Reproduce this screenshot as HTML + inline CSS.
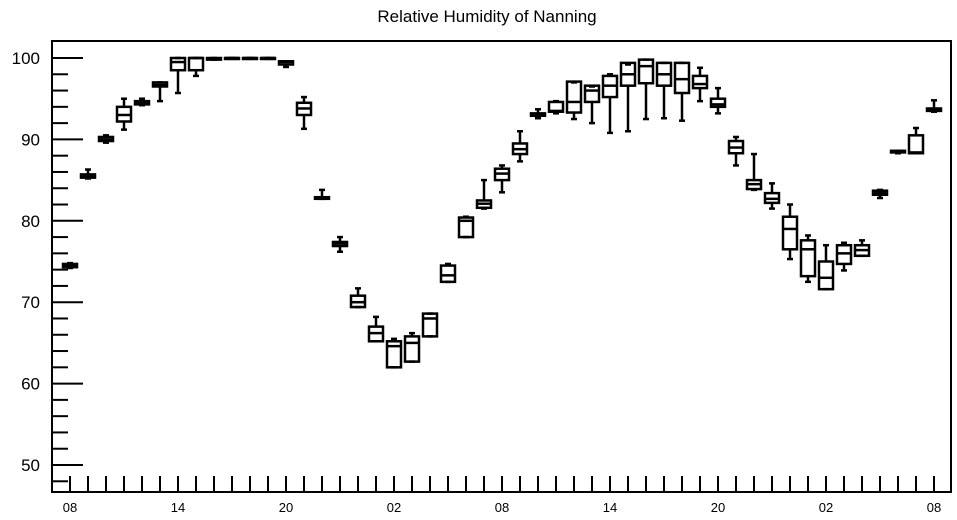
<!DOCTYPE html>
<html><head><meta charset="utf-8"><style>
body{margin:0;background:#fff;}
svg{display:block;font-family:"Liberation Sans",sans-serif;}
</style></head><body>
<svg id="chart" width="957" height="520" xmlns="http://www.w3.org/2000/svg">
<text x="487" y="22" text-anchor="middle" font-size="17">Relative Humidity of Nanning</text>
<g id="axes"></g>
<g id="boxes"></g>
</svg>
<script>
const hours = [0,1,2,3,4,5,6,7,8,9,10,11,12,13,14,15,16,17,18,19,20,21,22,23,24,25,26,27,28,29,30,31,32,33,34,35,36,37,38,39,40,41,42,43,44,45,46,47,48];
const mins = [74.2,85.2,89.6,91.2,94.2,94.7,95.7,97.8,99.8,99.9,99.9,99.9,98.9,91.3,82.7,76.2,69.4,65.2,62.0,62.7,65.8,72.5,78.0,81.5,83.5,87.3,92.6,93.2,92.5,92.0,90.8,91.0,92.5,92.6,92.3,94.7,93.2,86.8,83.8,81.5,75.3,72.5,71.6,73.9,75.7,82.8,88.3,88.3,93.4];
const q1s = [74.3,85.3,89.8,92.2,94.3,96.5,98.5,98.5,99.8,99.9,99.9,99.9,99.2,93.0,82.7,76.9,69.4,65.2,62.0,62.7,65.8,72.5,78.0,81.6,85.0,88.2,92.9,93.4,93.3,94.6,95.2,96.6,96.9,96.6,95.7,96.3,94.0,88.3,83.9,82.2,76.5,73.2,71.6,74.7,75.7,83.2,88.4,88.3,93.5];
const medians = [74.5,85.5,90.0,93.0,94.5,96.7,99.5,100,99.9,100,100,100,99.5,93.8,82.8,77.2,70.0,66.2,64.6,65.0,68.0,73.3,80.0,82.1,85.8,88.8,93.1,93.5,94.6,96.0,96.6,98.0,99.0,98.0,97.4,96.8,94.3,89.0,84.5,82.7,79.0,76.5,73.0,76.0,76.4,83.5,88.5,88.4,93.6];
const q3s = [74.7,85.7,90.3,94.0,94.7,97.0,100,100,100,100,100,100,99.6,94.5,82.9,77.4,70.8,67.0,65.2,65.8,68.6,74.5,80.4,82.5,86.4,89.5,93.2,94.6,97.1,96.6,97.8,99.4,99.8,99.4,99.4,97.8,95.0,89.8,85.0,83.4,80.5,77.6,75.0,77.0,77.0,83.7,88.6,90.5,93.8];
const maxs = [74.8,86.3,90.5,95.0,95.0,97.0,100,100,100,100,100,100,99.6,95.2,83.8,78.0,71.7,68.2,65.5,66.2,68.6,74.7,80.5,85.0,86.8,91.0,93.7,94.7,97.0,96.5,98.0,99.2,99.8,99.4,99.4,98.8,96.3,90.3,88.2,84.6,82.0,78.2,77.0,77.3,77.6,83.8,88.6,91.4,94.8];
const yTicks = [50,60,70,80,90,100];
const xLabels = ["08","14","20","02","08","14","20","02","08"];

const NS="http://www.w3.org/2000/svg";
const L=52,R=951,T=41,B=492;
const y=v=>465-(v-50)*8.14;
const x=h=>70+h*18;
function mk(tag,attrs,parent){const e=document.createElementNS(NS,tag);for(const k in attrs)e.setAttribute(k,attrs[k]);parent.appendChild(e);return e;}
const ax=document.getElementById('axes');
const frame=mk('rect',{x:L,y:T,width:R-L,height:B-T,fill:'none',stroke:'#000','stroke-width':2},ax);


for(let v=48;v<=100;v+=2){
  const major=v%10===0;
  const t=mk('line',{x1:L,x2:L+(major?31:16),y1:y(v),y2:y(v),stroke:'#000','stroke-width':2},ax);
  
  
}
yTicks.forEach(v=>{
  const t=mk('text',{x:40,y:y(v)+6,'text-anchor':'end','font-size':17},ax);
  t.textContent=v;
  
  
});
for(let h=0;h<=48;h++){
  const t=mk('line',{x1:x(h),x2:x(h),y1:B,y2:B-16,stroke:'#000','stroke-width':2},ax);
  
  
}
xLabels.forEach((s,i)=>{
  const t=mk('text',{x:x(i*6),y:512,'text-anchor':'middle','font-size':13},ax);
  t.textContent=s;
  
  
});
const bx=document.getElementById('boxes');
hours.forEach((h,i)=>{
  const g=mk('g',{stroke:'#000','stroke-width':2.5,fill:'none'},bx);
  
  
  const cx=x(h),w=7;
  mk('line',{x1:cx,x2:cx,y1:y(maxs[i]),y2:y(q3s[i])},g);
  mk('line',{x1:cx,x2:cx,y1:y(q1s[i]),y2:y(mins[i])},g);
  mk('line',{x1:cx-3,x2:cx+3,y1:y(maxs[i]),y2:y(maxs[i])},g);
  mk('line',{x1:cx-3,x2:cx+3,y1:y(mins[i]),y2:y(mins[i])},g);
  mk('rect',{x:cx-w,y:y(q3s[i]),width:2*w,height:Math.max(1,y(q1s[i])-y(q3s[i]))},g);
  mk('line',{x1:cx-w,x2:cx+w,y1:y(medians[i]),y2:y(medians[i])},g);
});
</script>
</body></html>
